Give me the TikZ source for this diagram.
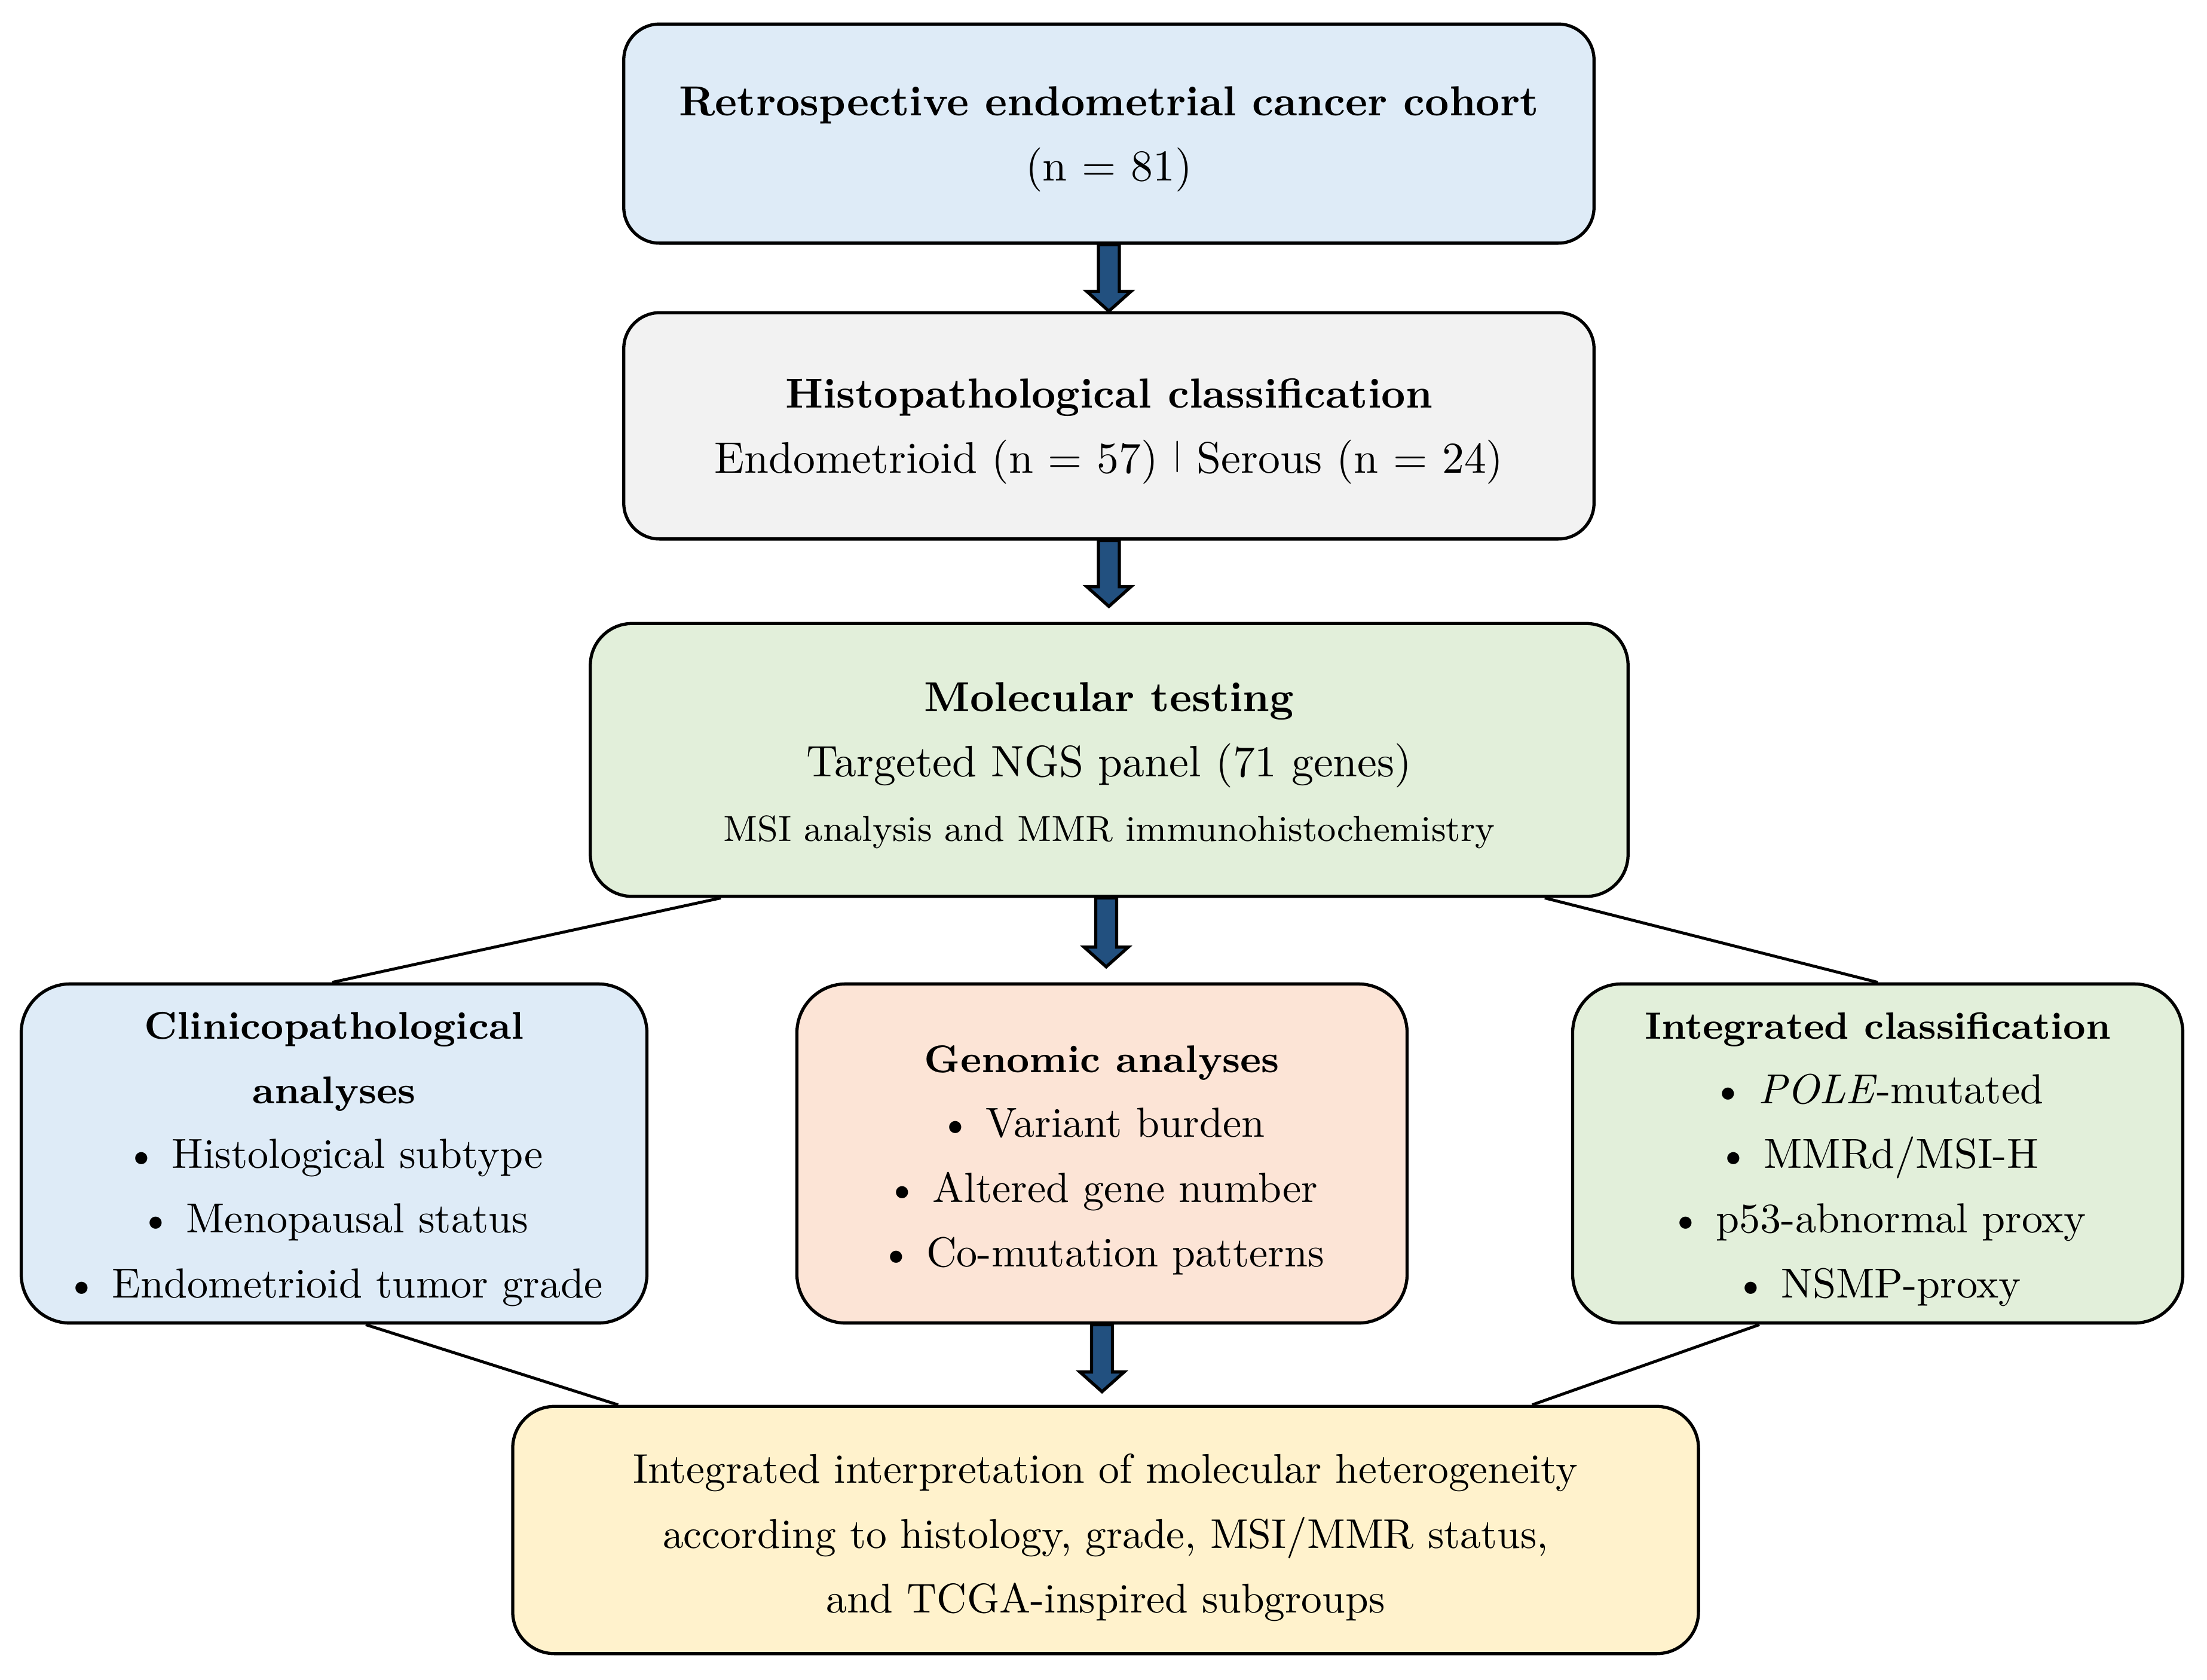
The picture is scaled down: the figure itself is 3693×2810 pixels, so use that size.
\documentclass[tikz,border=0pt]{standalone}
\usetikzlibrary{calc}
\definecolor{cblue}{HTML}{DEEBF7}
\definecolor{cgrey}{HTML}{F2F2F2}
\definecolor{cgreen}{HTML}{E2EFDA}
\definecolor{cpeach}{HTML}{FCE4D6}
\definecolor{cyellow}{HTML}{FFF2CC}
\definecolor{carrow}{HTML}{22507F}
\newcommand{\hb}{\fontsize{10}{15.4}\selectfont\bfseries}
\newcommand{\hs}{\fontsize{9.2}{15.4}\selectfont\bfseries}
\newcommand{\tpa}{\rule{0pt}{9.6pt}}
\newcommand{\tpb}{\rule{0pt}{9.1pt}}
\newcommand{\tpc}{\rule{0pt}{10.6pt}}
\newcommand{\fatarrow}[2]{%
  \draw[fat] ($#1+(-17.5,0)$) -- ($#2+(-17.5,-33)$) -- ($#2+(-37,-33)$) -- #2 --
  ($#2+(37,-33)$) -- ($#2+(17.5,-33)$) -- ($#1+(17.5,0)$) -- cycle;}
\tikzset{
  box/.style={draw=black, line width=0.75pt, rounded corners=#1, align=center,
    inner sep=0pt, font=\fontsize{10.5}{15.4}\selectfont},
  box/.default=0.3cm,
  link/.style={draw=black, line width=0.7pt},
  fat/.style={draw=black, fill=carrow, line width=0.75pt, line join=miter}
}
\begin{document}
\begin{tikzpicture}[x=0.005cm, y=-0.005cm]
\useasboundingbox (0,0) rectangle (3693,2810);

\node[box, fill=cblue, minimum width=8.125cm, minimum height=1.835cm] (b1) at (1855.5,223.5)
  {\tpa{\hb Retrospective endometrial cancer cohort}\\ (n = 81)};
\node[box, fill=cgrey, minimum width=8.125cm, minimum height=1.895cm] (b2) at (1855.5,712.5)
  {\tpa{\hb Histopathological classification}\\ Endometrioid (n = 57) {\fontsize{7.5}{8}\selectfont\raisebox{1.9pt}{\textbar}} Serous (n = 24)};
\node[box=0.35cm, fill=cgreen, minimum width=8.69cm, minimum height=2.285cm] (b3) at (1856,1271.5)
  {\tpa{\hb Molecular testing}\\ Targeted NGS panel (71 genes)\\ {\fontsize{8.65}{15.4}\selectfont MSI analysis and MMR immunohistochemistry}};
\node[box=0.41cm, fill=cblue, minimum width=5.24cm, minimum height=2.84cm,
  font=\fontsize{10}{15.4}\selectfont] (b4) at (559,1930)
  {\tpb{\hs Clinicopathological}\\ {\hs analyses}\\ \textbullet\ Histological subtype\\ \textbullet\ Menopausal status\\ \textbullet\ Endometrioid tumor grade};
\node[box=0.41cm, fill=cpeach, minimum width=5.11cm, minimum height=2.84cm,
  font=\fontsize{10}{15.4}\selectfont] (b5) at (1844,1930)
  {\tpa{\hs Genomic analyses}\\ \textbullet\ Variant burden\\ \textbullet\ Altered gene number\\ \textbullet\ Co-mutation patterns};
\node[box=0.41cm, fill=cgreen, minimum width=5.11cm, minimum height=2.84cm,
  font=\fontsize{10}{15.4}\selectfont] (b6) at (3142,1930)
  {\tpb{\fontsize{9.05}{15.4}\selectfont\bfseries Integrated classification}\\ \textbullet\ \textit{POLE}-mutated\\ \textbullet\ MMRd/MSI-H\\ \textbullet\ p53-abnormal proxy\\ \textbullet\ NSMP-proxy};
\node[box=0.35cm, fill=cyellow, minimum width=9.93cm, minimum height=2.07cm,
  font=\fontsize{9.9}{15.4}\selectfont] (b7) at (1850,2560)
  {\tpc Integrated interpretation of molecular heterogeneity\\ according to histology, grade, MSI/MMR status,\\ and TCGA-inspired subgroups};

% connectors
\draw[link] ($(b3.south west)+(221,0)$) -- ($(b4.north)+(-3,0)$);
\draw[link] ($(b3.south east)+(-142,0)$) -- (b6.north);
\draw[link] ($(b4.south)+(53,0)$) -- ($(b7.north west)+(179,0)$);
\draw[link] ($(b6.south)+(-198,0)$) -- ($(b7.north east)+(-281,0)$);

% block arrows
\coordinate (t1) at (b2.north);
\coordinate (t2) at ($(b2.south |- b3.north)+(0,-26)$);
\coordinate (s3) at ($(b3.south)+(-5,0)$);
\coordinate (t3) at ($(s3 |- b5.north)+(0,-26)$);
\coordinate (t4) at ($(b5.south |- b7.north)+(0,-22)$);
\fatarrow{(b1.south)}{(t1)}
\fatarrow{(b2.south)}{(t2)}
\fatarrow{(s3)}{(t3)}
\fatarrow{(b5.south)}{(t4)}
\end{tikzpicture}
\end{document}
